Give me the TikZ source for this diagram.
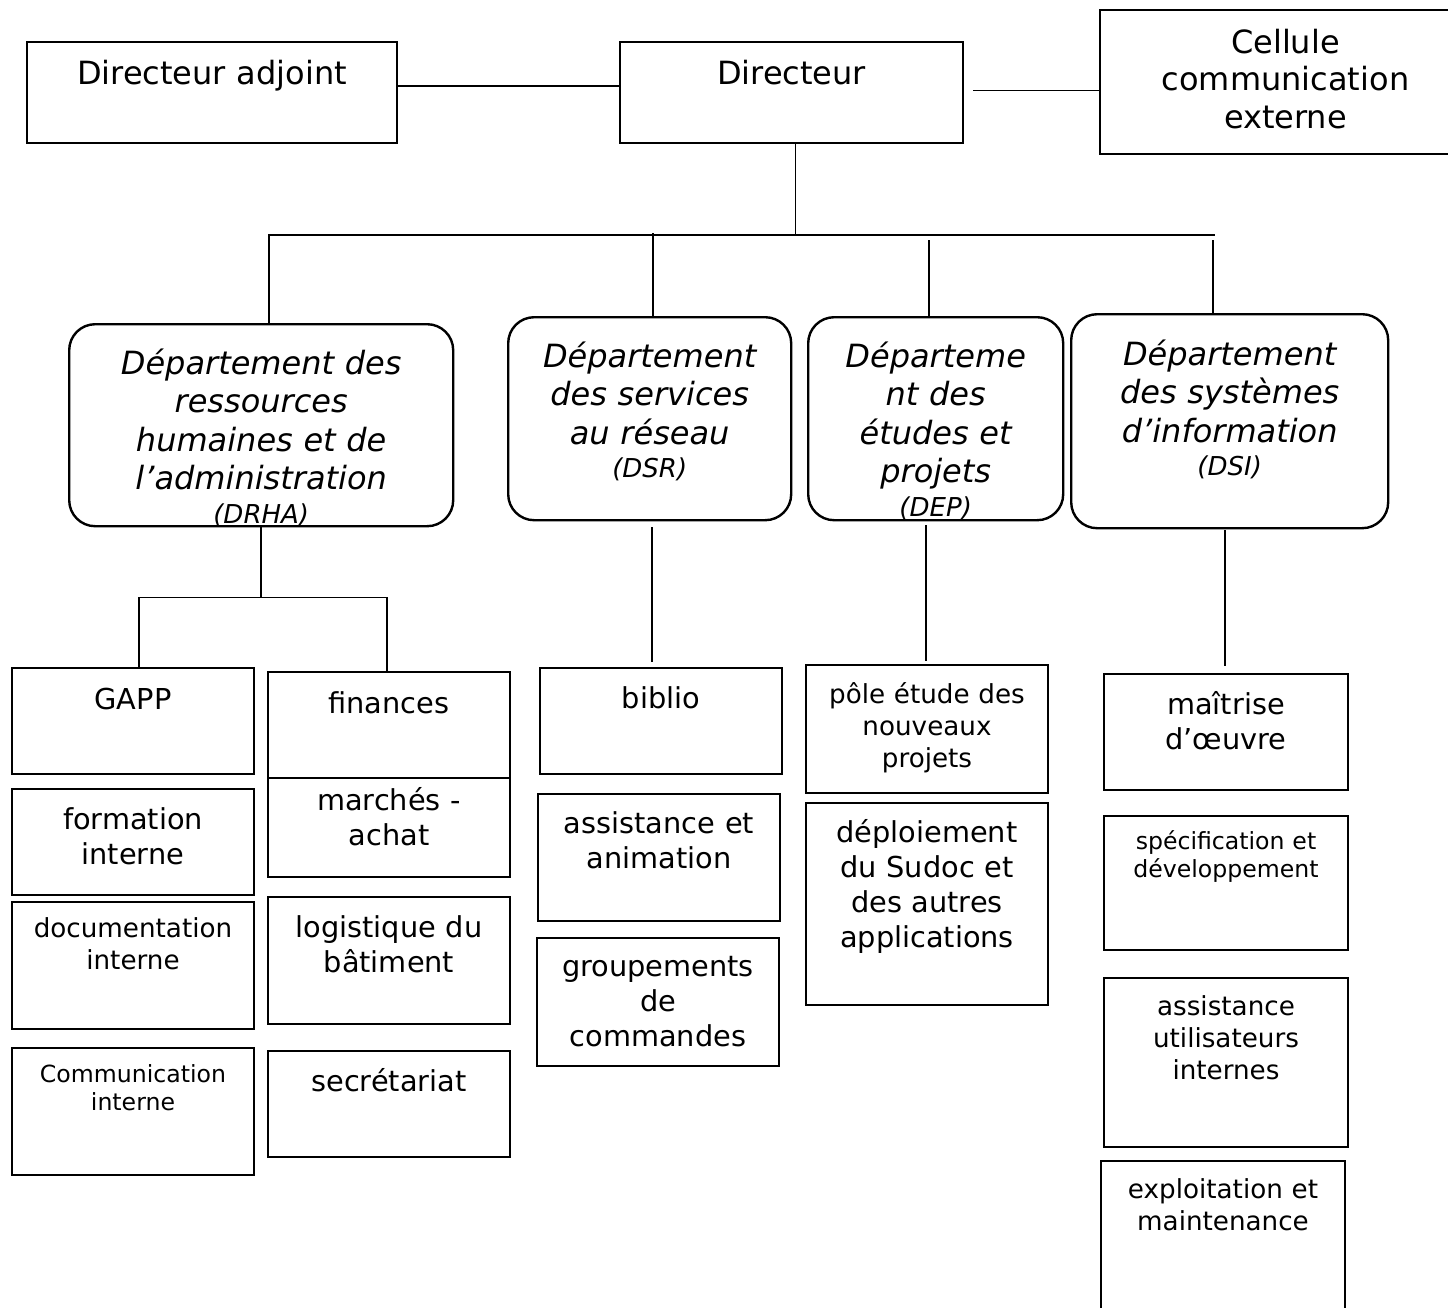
\documentclass[tikz,border=0pt]{standalone}
\usepackage{fontspec}
\setmainfont{DejaVu Sans}

\begin{document}
\begin{tikzpicture}[x=0.5pt, y=-0.5pt,
    dims/.style n args={3}{text width=#1*0.5pt, text height=#3*0.5pt, text depth=(#2-#3)*0.5pt},
    boxbase/.style={draw, line width=1pt, anchor=north west, inner sep=0pt, align=center},
    topbox/.style={boxbase, font=\fontsize{16}{18.75}\selectfont},
    deptbox/.style={boxbase, line width=1.2pt, rounded corners=13pt, font=\fontsize{16}{19.25}\selectfont\itshape},
    leafbox/.style={boxbase, font=\fontsize{14.4}{17.5}\selectfont},
    smallbox/.style={boxbase, font=\fontsize{13.1}{16}\selectfont},
    tinybox/.style={boxbase, font=\fontsize{11.8}{14.4}\selectfont},
    link/.style={line width=0.75pt}]
  \useasboundingbox[fill=white] (0,0) rectangle (1448,1308);

  % direction
  \node[topbox, dims={370}{101}{42}] (adj) at (26,41) {Directeur adjoint};
  \node[topbox, dims={343}{101}{42}] (dir) at (619,41) {Directeur};
  \node[topbox, dims={371}{144}{43}] (cellule) at (1099,9) {Cellule\\communication\\externe};

  % departements
  \node[deptbox, dims={384}{202}{50}] (drha) at (68,323) {Département des\\ressources\\humaines et de\\l’administration\\[-2.5pt]{\fontsize{13}{16}\selectfont (DRHA)}};
  \node[deptbox, dims={283}{203}{50}] (dsr) at (507,316) {Département\\des services\\au réseau\\[-2.5pt]{\fontsize{13}{16}\selectfont (DSR)}};
  \node[deptbox, dims={255}{203}{50}] (dep) at (807,316) {Départeme\\nt des\\études et\\projets\\[-2.5pt]{\fontsize{13}{16}\selectfont (DEP)}};
  \node[deptbox, dims={317}{214}{51}] (dsi) at (1070,313) {Département\\des systèmes\\d’information\\[-2.5pt]{\fontsize{13}{16}\selectfont (DSI)}};

  % DRHA
  \node[leafbox, dims={242}{106}{41}] (gapp) at (11,667) {GAPP};
  \node[leafbox, dims={242}{106}{40}] (form) at (11,788) {formation\\interne};
  \node[smallbox, dims={242}{127}{35}] (docu) at (11,901) {documentation\\interne};
  \node[tinybox, dims={242}{127}{34}] (comm) at (11,1047) {Communication\\interne};
  \node[leafbox, dims={242}{106}{41}] (fin) at (267,671) {finances};
  \node[leafbox, dims={242}{99}{32}] (marc) at (267,777) {marchés -\\achat};
  \node[leafbox, dims={242}{127}{40}] (logi) at (267,896) {logistique du\\bâtiment};
  \node[leafbox, dims={242}{106}{40}] (secr) at (267,1050) {secrétariat};

  % DSR
  \node[leafbox, dims={242}{106}{40}] (bib) at (539,667) {biblio};
  \node[leafbox, dims={242}{127}{39}] (assa) at (537,793) {assistance et\\animation};
  \node[leafbox, dims={242}{128}{38}] (grou) at (536,937) {groupements\\de\\commandes};

  % DEP
  \node[smallbox, dims={242}{128}{38}] (pole) at (805,664) {pôle étude des\\nouveaux\\projets};
  \node[leafbox, dims={242}{202}{39}] (depl) at (805,802) {déploiement\\du Sudoc et\\des autres\\applications};

  % DSI
  \node[leafbox, dims={244}{116}{40}] (maitr) at (1103,673) {maîtrise\\d’œuvre};
  \node[tinybox, dims={244}{134}{33}] (spec) at (1103,815) {spécification et\\développement};
  \node[smallbox, dims={244}{169}{37}] (assu) at (1103,977) {assistance\\utilisateurs\\internes};
  \node[smallbox, dims={244}{160}{37}] (expl) at (1100,1160) {exploitation et\\maintenance};

  % liens
  \draw[link] ([yshift=3.25pt]adj.east) -- ([yshift=3.25pt]dir.west);
  \draw[link] ([xshift=4.5pt,yshift=1pt]dir.east) -- ([yshift=1pt]dir.east -| cellule.west);
  \draw[link] ([xshift=2pt]dir.south) -- ++(0,91) coordinate (hub);
  \draw[link] ([xshift=4pt]drha.north) |- (hub) -- ++(419.5,0);
  \draw[link] ([xshift=1.75pt]dsr.north) -- ++(0,-83);
  \draw[link] ([xshift=-3.25pt]dep.north) -- ++(0,-76);
  \draw[link] ([xshift=-8.25pt]dsi.north) -- ++(0,-73);

  \draw[link] (drha.south) -- ++(0,70) coordinate (drhahub);
  \draw[link] ([xshift=3pt]gapp.north) |- (drhahub) -| ([xshift=-1pt]fin.north);
  \draw[link] ([xshift=1.25pt,yshift=-3pt]dsr.south) -- ++(0,135);
  \draw[link] ([xshift=-4.75pt,yshift=-2pt]dep.south) -- ++(0,136);
  \draw[link] ([xshift=-2.25pt,yshift=-0.5pt]dsi.south) -- ++(0,136);
\end{tikzpicture}
\end{document}
